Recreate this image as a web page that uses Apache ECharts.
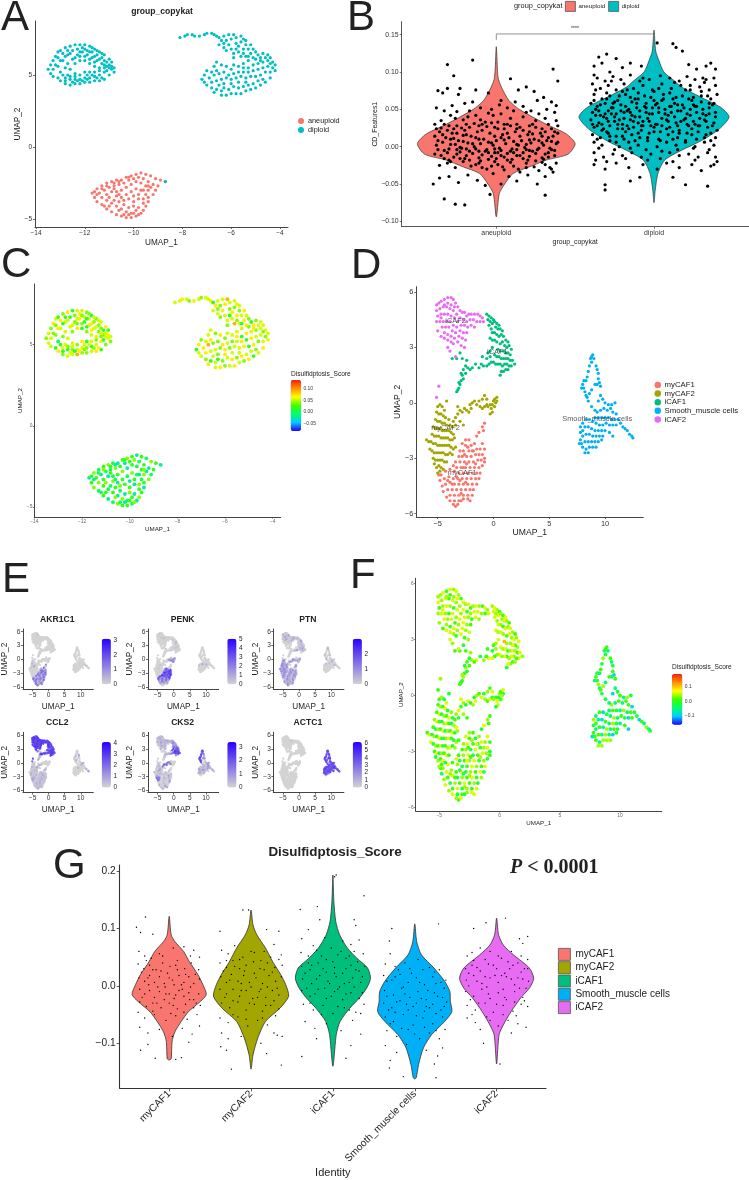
<!DOCTYPE html>
<html><head><meta charset="utf-8">
<style>html,body{margin:0;background:#fff}#c{width:749px;height:1180px}</style>
<script src="https://cdn.jsdelivr.net/npm/echarts@6/dist/echarts.min.js"></script></head>
<body><div id="c"></div>
<script>
// ---------- DATA: UMAP coordinates (tenths of a unit), flat x,y lists
const copykatDiploidA=[-135,54,-134,57,-134,51,-133,60,-132,63,-131,66,-130,67,-128,69,-126,70,-124,71,-122,71,-120,71,-118,70,-116,68,-114,66,-112,64,-110,61,-109,59,-108,55,-108,52,-109,54,-110,50,-112,47,-114,46,-116,46,-118,45,-120,45,-122,44,-124,44,-126,43,-128,44,-130,46,-131,48,-133,49,-130,52,-128,55,-127,58,-125,61,-123,64,-121,66,-119,64,-117,62,-115,60,-113,58,-111,56,-112,52,-114,50,-116,49,-118,48,-120,48,-122,47,-124,47,-126,47,-128,48,-129,50,-131,56,-129,60,-127,64,-125,67,-123,68,-121,69,-119,67,-117,66,-115,64,-113,62,-111,59,-110,57,-114,55,-116,56,-118,58,-120,60,-122,60,-124,58,-126,54,-124,51,-122,50,-120,52,-118,52,-116,52,-114,53,-112,55,-127,50,-125,45,-123,46,-121,46,-119,47,-133,54,-132,57,-130,60,-128,63,-126,65,-124,62,-122,63,-120,63,-118,61,-116,59,-114,61,-112,60,-110,55,-111,53,-113,48,-115,48,-117,50,-119,50,-131,62,-129,65,-127,67,-122,66,-120,68,-118,66,-116,63,-113,65,-115,67,-117,69,-112,57,-109,56,-128,46,-126,49,-124,49];
const copykatDiploidB=[-81,76,-79,77,-78,78,-76,78,-75,77,-73,77,-71,78,-70,79,-68,79,-67,78,-66,77,-65,76,-64,74,-65,71,-63,72,-63,69,-62,67,-60,68,-61,71,-62,74,-63,77,-61,78,-59,78,-60,75,-58,76,-58,72,-56,77,-55,75,-54,74,-56,73,-57,70,-58,68,-59,65,-57,66,-55,68,-54,71,-52,71,-53,68,-55,65,-56,63,-54,63,-52,65,-51,68,-50,66,-49,64,-51,62,-53,60,-55,58,-50,61,-48,62,-47,65,-46,62,-44,62,-43,59,-45,60,-47,59,-49,58,-51,57,-53,55,-55,55,-57,56,-59,57,-60,54,-62,56,-64,57,-66,59,-67,56,-66,53,-68,52,-70,53,-71,50,-72,47,-71,45,-69,48,-67,50,-65,51,-63,52,-61,50,-59,51,-57,52,-55,52,-53,52,-51,53,-49,54,-47,55,-45,56,-43,55,-42,57,-42,53,-44,52,-46,52,-48,50,-50,49,-52,49,-54,48,-56,49,-58,48,-60,47,-62,48,-64,47,-66,46,-68,45,-70,43,-68,41,-66,40,-64,39,-62,36,-60,37,-58,37,-56,37,-54,39,-52,40,-50,41,-48,43,-46,45,-44,48,-47,47,-49,46,-51,44,-53,43,-55,42,-57,41,-59,42,-61,40,-63,41,-65,43,-67,38,-64,36,-63,44,-60,44,-57,45,-54,45,-59,62,-53,63,-48,60,-45,64,-44,58];
const copykatDiploidStray=[-87,-24];
const copykatAneuploid=[-87,-24,-89,-23,-91,-22,-93,-20,-95,-19,-97,-18,-99,-19,-101,-20,-103,-21,-105,-23,-107,-23,-109,-24,-111,-25,-113,-27,-115,-29,-117,-32,-116,-35,-115,-38,-113,-40,-111,-43,-109,-45,-107,-47,-105,-48,-103,-49,-101,-49,-99,-48,-97,-46,-96,-44,-95,-41,-94,-38,-94,-35,-92,-33,-91,-30,-90,-27,-92,-26,-94,-24,-96,-22,-98,-21,-100,-22,-102,-23,-104,-25,-106,-26,-108,-27,-110,-28,-112,-30,-114,-32,-113,-35,-111,-37,-109,-39,-107,-41,-105,-43,-103,-45,-101,-46,-99,-44,-98,-42,-96,-39,-96,-36,-95,-33,-94,-30,-93,-28,-95,-27,-97,-25,-99,-24,-101,-26,-103,-28,-105,-30,-107,-31,-109,-31,-111,-33,-110,-35,-108,-37,-106,-38,-104,-40,-102,-42,-100,-41,-100,-38,-98,-36,-98,-33,-97,-30,-99,-29,-101,-31,-103,-33,-105,-35,-107,-34,-102,-36,-100,-34,-112,-41,-110,-41,-106,-44,-104,-47,-102,-47,-100,-46,-98,-47,-115,-33,-116,-31,-113,-29,-111,-27,-108,-25,-106,-24,-102,-21,-104,-37,-106,-33,-108,-29,-96,-30,-94,-27];
const cafMy1=[-25,-20,-22,-20,-28,-22,-25,-23,-20,-23,-17,-22,-10,-22,-8,-25,-12,-25,-15,-25,-18,-26,-22,-26,-27,-26,-30,-26,-31,-29,-28,-29,-24,-29,-20,-29,-16,-28,-13,-28,-10,-28,-8,-30,-8,-32,-11,-31,-14,-31,-18,-32,-22,-32,-26,-32,-30,-32,-34,-32,-36,-34,-33,-35,-29,-35,-25,-35,-21,-35,-17,-35,-13,-35,-10,-34,-12,-38,-15,-38,-19,-38,-23,-38,-27,-38,-31,-38,-35,-37,-39,-36,-43,-37,-47,-39,-49,-39,-48,-42,-44,-41,-40,-40,-36,-41,-32,-41,-28,-41,-24,-41,-20,-41,-16,-41,-13,-41,-15,-44,-19,-44,-23,-44,-27,-44,-31,-44,-35,-44,-39,-43,-43,-44,-46,-45,-45,-48,-41,-47,-37,-47,-33,-47,-29,-47,-25,-47,-21,-47,-18,-47,-19,-50,-23,-50,-27,-50,-31,-50,-35,-50,-39,-50,-42,-51,-39,-53,-35,-53,-31,-53,-27,-52,-23,-52,-34,-56,-36,-55,-32,-55,-30,-42,-26,-28,-23,-24,-19,-26,-33,-40,-37,-44,-41,-42,-21,-53,-29,-53,-10,-13,-8,-11,-13,-16,-15,-18,-9,-15,-25,-43,-27,-35,-24,-33,-16,-33,-29,-49];
const cafMy2=[-50,-2,-48,-1,-46,-2,-44,-4,-51,-5,-49,-6,-47,-6,-45,-7,-43,-8,-40,-9,-52,-9,-50,-10,-48,-10,-46,-11,-44,-11,-42,-12,-39,-12,-37,-13,-54,-13,-52,-14,-50,-14,-48,-14,-46,-15,-44,-15,-42,-15,-40,-15,-38,-16,-36,-17,-55,-17,-53,-18,-51,-18,-49,-18,-47,-19,-45,-19,-43,-19,-41,-19,-39,-20,-37,-20,-35,-19,-60,-20,-58,-21,-56,-21,-54,-22,-52,-22,-50,-23,-48,-23,-46,-23,-44,-23,-42,-23,-40,-23,-38,-24,-36,-25,-34,-24,-57,-25,-55,-26,-53,-27,-51,-27,-49,-27,-47,-27,-45,-27,-43,-28,-41,-28,-39,-27,-37,-28,-54,-30,-52,-31,-50,-31,-48,-31,-46,-31,-44,-32,-42,-32,-53,-33,-51,-35,-49,-34,-47,-35,-45,-36,-50,-38,-48,-37,-36,-10,-34,-8,-32,-6,-30,-4,-28,-5,-26,-3,-24,-4,-22,-5,-20,-3,-21,-1,-19,0,-17,1,-15,-1,-13,1,-12,-2,-10,-3,-8,-2,-6,-1,-5,-2,-3,-1,-2,-3,-1,-1,0,1,1,2,3,3,3,1,2,0,1,-2,-1,-5,-3,-6,-10,2,-8,4,-6,2,-34,-12,-30,-10,-27,-12,-32,-2,-42,1];
const cafI1=[-6,48,-4,47,-2,46,0,45,-5,45,-3,44,-1,43,1,44,3,43,5,42,2,41,4,40,6,40,8,39,-4,42,-2,40,-1,38,1,38,3,37,5,36,7,37,9,36,11,34,13,33,-3,35,-1,34,1,34,3,33,6,32,8,33,10,31,12,30,14,31,16,29,15,26,13,27,11,27,9,28,6,28,4,29,-1,30,-3,28,-5,27,1,26,3,25,5,25,7,24,9,24,11,24,13,24,15,23,17,23,19,21,16,20,14,20,12,21,10,21,8,20,6,21,4,21,2,21,0,22,-2,22,-4,21,-6,20,9,17,7,17,11,18,13,18,6,15,-9,20,-11,21,-13,19,-16,21,-19,19,-21,18,-23,19,-25,20,-27,18,-28,15,-27,13,-29,12,-30,10,-31,8,-32,7,-33,6,-31,11,-29,16,-25,16,-24,23,-28,24,-30,27,-33,24,-37,24,-3,25,-6,24,-10,25];
const cafSmooth=[88,25,87,24,89,26,88,22,90,24,86,20,85,17,84,14,83,12,81,12,80,10,79,8,81,8,82,6,83,4,84,3,85,1,92,20,93,18,94,16,94,13,95,11,96,9,93,10,91,10,88,7,86,5,96,4,98,2,94,1,100,0,103,-1,106,-1,109,0,99,-3,96,-4,93,-5,91,-4,88,-2,105,-3,102,-4,107,-5,110,-6,112,-9,109,-9,106,-9,103,-8,100,-8,97,-8,94,-8,91,-8,114,-11,116,-13,118,-14,120,-15,122,-17,124,-18,125,-19,110,-12,107,-12,104,-12,101,-11,98,-12,95,-12,92,-11,89,-10,86,-9,83,-9,80,-11,78,-13,78,-16,80,-15,82,-13,85,-13,88,-14,91,-15,94,-15,97,-15,100,-15,104,-16,107,-18,98,-18,95,-18,92,-18,89,-18,86,-17,83,-17,80,-18,78,-20,77,-22,79,-22,82,-21,85,-21,88,-21,91,-21,94,-21,97,-20,80,-24,83,-25,86,-24,89,-24,92,-24,85,-27,82,-27];
const cafI2=[-51,53,-49,54,-47,55,-44,56,-41,57,-38,57,-36,56,-34,54,-32,52,-30,50,-28,49,-26,49,-24,47,-22,48,-20,48,-17,48,-14,48,-12,47,-10,46,-9,44,-12,44,-15,44,-18,45,-21,45,-24,44,-27,45,-30,46,-33,48,-36,50,-39,51,-42,52,-45,52,-48,51,-51,50,-50,47,-47,48,-44,48,-41,48,-38,47,-35,46,-32,44,-29,42,-26,42,-23,41,-20,42,-17,41,-51,44,-48,44,-45,44,-42,44,-39,44,-36,42,-33,41,-30,39,-27,38,-24,38,-46,41,-43,41,-40,41,-37,39,-34,38,-31,36,-28,35,-25,34,-44,38,-41,37,-38,36,-35,35,-32,33,-29,31,-26,30,-41,34,-38,33,-36,32,-41,30,-39,28,-34,25,-50,39,-47,36,-44,35,-38,53,-35,52,-41,54,-44,53,-47,46,-49,9,-51,3];
// score tiers per point (digit = index into the tier list)
const tiersC=[-0.06,-0.04,-0.02,0,0.02,0.04,0.055,0.07,0.09,0.12];
const tiersF=[-0.14,-0.09,-0.05,-0.02,0.01,0.04,0.06,0.08,0.11,0.16];
const scoreCA="5665764574665356746565476558665746356657466557645665474566457665546765475665746556647565746655476564756657465476656745665";
const scoreCB="6676576566747656567566876567657466757658676547665756676567476657566765746785576567476656765747665756676546756765746756675765467657665476";
const scoreCC="2453424542354352453423544325424534243542453324543425342453524342543245343254243534254234532452435424534253";
const scoreFMy1="5464356456346545364563456436546345645364564354654365463546354645364563546453645364563456456345634563546345645";
const scoreFMy2="4536454635463546345643564356435463546354635464356435463546345635463546435463545645364563546354635463546354635463546354635";
const scoreFI1="5654656546565465654656546565465656546558654656456546564565465654656453645364534534543453454344534";
const scoreFSmooth="4343253423423524342341424252314253425234241342523423142523413425231425342142532413425232413425213425";
const scoreFI2="5564656546564565465645665465564656456546565465565465665465645656546564565465654656456546565465";
// Feature plots: digit tiers per point, cluster by cluster (missing digits read as 0)
const fAKR1C1=["0302405103602040530260150403062051040306204105030620401503062040150306204103050204061030520406103052040610305","000010000020000100000030000010000","","00000000000000000000000000000000000000000000000000001","0000000100000000"];
const fPENK=["5746358497683579648573596847359684735968473506850740630540730640530420630420310420310","0000000000000001000000000000000010000000000000000000000000000000000000000000000000000000003040305020403020502","00000000000000100000200000001000000010000000100","00000000000000000000000000000000000000000000000000000000000002000300010","00010000000000000000000000100000000000100"];
const fPTN=["2030402030104020301040203010402030104020301040203010402030104020301040203010402030104020301040203010402030104","3040203010402030405030201040203040302010402030403020104020304030201040203040302010402030403020103020100302010","0000200010003000100020001000200010002000100020003000100020001000300010002","0000200000100000200000100000000100000000200000000100000000200000000100000","0200100030010002001000300100020010003001000200100030010002001"];
const fCCL2=["1010201010201010102010101020101010201010102010102010102010101020101010201010102010102010102010102010102010101","0010001000200010001000100020001000100010002000100010002000100020001020203020203010201","7586785967486758965748675896574867589657486758965748675896574867589657486758965020102","0000000200000000000300000020000030000000200000000000200030000000200","8697586978695869786958697869586978695869786958697869586978695869786958697869586978695869"];
const fCKS2=["0010000200000100003000010000200001000030000100002000010000300001000020000100003000010000200001000030000100002","0010000200100002001000030010000200100002000010002001000020010000300405060504060507040605060405","2030304020302040303040504060507060708070807090807080708070807060504030203020102010000000000000","7685768576857685754020304020100203010203040203010200102010203010020102030104020100100201020301020","1020102010201030102010201020103010201020102010201030102010201020103010201020"];
const fACTC1=["","","","7685768576857685768576958576857685768576857695857685768576857685768576859576857685768576857685768576","00000000000010"];
// Violin profiles: [value, half width in category units]
const violinAneuploid=[[0.134,0],[0.093,0.011],[0.08,0.032],[0.062,0.08],[0.05,0.146],[0.03,0.317],[0.017,0.444],[0.004,0.5],[-0.01,0.455],[-0.018,0.317],[-0.027,0.211],[-0.036,0.106],[-0.05,0.053],[-0.063,0.019],[-0.094,0]];
const violinDiploid=[[0.156,0],[0.128,0.011],[0.115,0.032],[0.1,0.063],[0.088,0.13],[0.08,0.173],[0.067,0.29],[0.053,0.42],[0.04,0.476],[0.024,0.416],[0.008,0.3],[-0.005,0.173],[-0.018,0.068],[-0.036,0.025],[-0.058,0.008],[-0.075,0]];
const violinMy1=[[0.121,0],[0.089,0.024],[0.077,0.07],[0.06,0.176],[0.042,0.247],[0.019,0.353],[0.002,0.412],[-0.015,0.453],[-0.027,0.382],[-0.045,0.235],[-0.062,0.147],[-0.08,0.07],[-0.097,0.035],[-0.127,0.024],[-0.129,0]];
const violinMy2=[[0.132,0],[0.106,0.024],[0.089,0.07],[0.066,0.176],[0.042,0.265],[0.019,0.365],[0.002,0.424],[-0.018,0.459],[-0.039,0.353],[-0.062,0.176],[-0.091,0.082],[-0.12,0.024],[-0.145,0]];
const violinI1=[[0.193,0],[0.147,0.012],[0.112,0.035],[0.089,0.082],[0.066,0.176],[0.048,0.294],[0.031,0.424],[0.013,0.459],[-0.004,0.412],[-0.021,0.324],[-0.039,0.206],[-0.062,0.088],[-0.085,0.041],[-0.14,0]];
const violinSmooth=[[0.108,0],[0.077,0.024],[0.054,0.082],[0.031,0.235],[0.008,0.365],[-0.01,0.429],[-0.027,0.435],[-0.045,0.453],[-0.062,0.365],[-0.085,0.206],[-0.108,0.106],[-0.137,0.047],[-0.16,0.018],[-0.162,0]];
const violinI2=[[0.118,0],[0.089,0.024],[0.071,0.082],[0.054,0.206],[0.031,0.4],[0.013,0.453],[-0.004,0.4],[-0.021,0.294],[-0.045,0.176],[-0.068,0.082],[-0.085,0.03],[-0.136,0]];
// Jitter points: flat lists of x offset (hundredths of a category) and value (thousandths)
const jitterAneuploid=[-31,110,-15,116,-27,95,9,91,36,104,39,88,-33,-70,-26,-77,-20,-78,31,-65,-4,-64,-37,75,-34,72,-31,78,-24,70,-23,78,-13,76,-5,72,3,62,14,76,19,80,24,74,30,66,35,60,38,55,-38,52,-33,48,-28,55,-25,47,-20,58,-15,60,-10,52,-3,50,2,56,7,52,12,60,17,54,22,48,26,62,32,50,37,46,-39,30,-35,35,-30,28,-26,38,-22,25,-18,40,-14,31,-10,36,-6,27,-2,42,1,33,5,24,9,38,13,30,17,40,21,28,25,35,29,24,33,30,38,35,-39,14,-36,20,-32,12,-28,18,-24,8,-20,22,-16,14,-12,20,-8,10,-4,18,0,8,4,16,8,12,12,20,16,8,20,16,24,10,28,18,32,8,36,14,39,18,-38,2,-34,6,-30,-3,-26,3,-22,-2,-18,5,-14,0,-10,4,-6,-4,-2,2,2,-2,6,4,10,-3,14,2,18,-1,22,5,26,-4,30,2,34,-2,38,4,-39,-10,-35,-12,-31,-8,-27,-14,-23,-7,-19,-12,-15,-9,-11,-15,-7,-6,-3,-13,1,-8,5,-14,9,-6,13,-12,17,-8,21,-13,25,-9,29,-15,33,-8,37,-12,-36,-25,-31,-22,-26,-28,-21,-20,-16,-26,-11,-22,-6,-30,-1,-20,4,-27,9,-21,14,-30,19,-22,24,-27,29,-21,34,-28,38,-22,-40,-50,-36,-42,-30,-40,-24,-48,-18,-38,-12,-45,-7,-52,-2,-36,3,-50,8,-40,13,-46,20,-38,26,-50,31,-40,36,-34,-37,8,-33,-5,-29,10,-25,-10,-21,15,-17,-6,-13,12,-9,-11,-5,6,-1,-8,3,12,7,-9,11,7,15,-12,19,3,23,-6,27,8,31,-10,35,7,-35,25,-27,24,-19,30,-11,28,-3,32,5,30,13,24,21,20,29,14,-30,-18,-20,-16,-10,-19,0,-16,10,-17,20,-18,30,-17,-38,24,-34,16,-31,22,-29,3,-27,11,-25,28,-23,-1,-21,7,-19,16,-17,26,-15,4,-13,-3,-11,10,-9,22,-7,33,-5,-8,-3,5,-1,14,1,24,3,-5,5,9,7,18,9,28,11,-8,13,3,15,14,17,22,19,-4,21,9,23,17,25,26,27,-2,29,5,31,20,33,12,35,-4,37,20,39,6,-37,-4,-33,-16,-29,-20,-25,-4,-23,-16,-19,-3,-17,-18,-13,-24,-11,-6,-9,-28,-5,-17,-3,-26,-1,-3,1,-24,3,-12,5,-31,7,-18,11,-26,13,-4,15,-34,17,-16,19,-28,21,-5,25,-19,27,-32,31,-24,33,-14,35,-30,37,-5,-33,30,-29,42,-25,18,-21,36,-17,48,-13,42,-9,30,-5,45,-1,26,3,44,7,30,11,48,15,26,19,46,23,30,27,44,31,38,35,24,39,28];
const jitterDiploid=[2,139,12,138,14,133,18,128,-30,124,-35,120,-33,112,-38,108,-24,118,-20,106,-28,100,-38,96,-15,112,-8,108,22,110,27,104,33,108,39,104,36,112,31,92,-31,-58,-31,-51,-15,-46,-9,-41,20,-51,34,-53,12,-41,-36,92,-31,88,-26,94,-21,90,-15,96,-9,88,-3,90,4,95,10,92,16,88,21,94,26,90,32,86,38,92,-39,84,-34,78,-29,82,-24,76,-19,84,-13,78,-7,82,-1,76,5,84,11,78,17,82,23,76,29,80,35,76,39,82,-38,70,-33,64,-28,68,-23,62,-18,70,-12,64,-6,68,0,62,6,70,12,64,18,68,24,62,30,68,36,64,40,70,-40,58,-36,54,-31,58,-26,52,-21,56,-16,50,-11,58,-5,52,1,56,7,50,13,58,19,52,25,56,31,50,37,56,-39,46,-34,42,-29,48,-24,44,-19,46,-14,42,-9,48,-3,44,3,46,9,42,15,48,21,44,27,46,33,42,39,46,-40,36,-35,32,-30,38,-25,34,-20,30,-15,36,-10,32,-4,38,2,30,8,36,14,32,20,38,26,30,32,36,38,32,-38,26,-33,22,-28,28,-23,24,-18,20,-13,26,-8,22,-2,28,4,20,10,26,16,22,22,28,28,20,34,26,40,22,-39,16,-34,12,-29,18,-24,14,-19,10,-14,16,-9,12,-3,18,3,10,9,16,15,12,21,18,27,10,33,16,39,12,-38,6,-33,2,-28,8,-22,0,-16,6,-10,2,-4,8,2,0,8,6,14,2,20,8,26,0,32,6,38,2,-38,-8,-32,-14,-26,-10,-20,-12,-14,-8,-8,-14,-2,-10,4,-16,10,-8,16,-12,22,-10,28,-14,34,-8,39,-14,-38,-24,-31,-30,-24,-22,-16,-28,-7,-24,2,-30,8,-22,16,-28,24,-24,30,-32,36,-26,40,-20,-37,-18,-37,50,-32,40,-27,44,-22,36,-17,48,-12,40,-7,34,-1,52,5,38,11,46,17,34,23,50,29,38,35,44,-36,28,-30,20,-20,24,-10,18,0,26,12,20,24,24,36,18,-25,60,-15,66,-5,58,5,62,15,56,25,66,35,58,-30,72,-20,74,-10,72,0,74,10,72,20,76,30,74,-39,30,-37,42,-35,48,-33,30,-31,44,-29,34,-27,52,-25,40,-23,30,-21,48,-19,38,-17,28,-15,46,-13,34,-11,52,-9,40,-7,28,-5,46,-3,34,-1,44,1,30,3,52,5,28,7,44,9,34,11,54,13,40,15,28,17,48,19,36,21,30,23,42,25,34,27,54,29,28,31,44,33,34,35,52,37,28,39,40,-38,62,-34,56,-30,64,-26,58,-22,68,-18,54,-14,60,-10,64,-6,54,-2,66,2,58,6,64,10,54,14,66,18,56,22,64,26,54,30,60,34,68,38,58,-36,10,-32,24,-28,14,-24,6,-20,14,-16,24,-12,8,-8,28,-4,12,0,20,4,8,8,24,12,10,16,18,20,6,24,16,28,28,32,12,36,8,-37,76,-27,88,-17,76,-7,92,3,78,13,86,23,82,33,90,-35,-2,-25,-4,-15,-2,-5,-4,5,-6,15,-4,25,-2,35,-4,-30,-20,-18,-16,-4,-18,12,-20,26,-18,38,-24];
const jitterMy1=[-29,120,-40,102,-35,93,-20,90,-35,-112,-17,-126,15,-125,8,-128,-37,60,-30,52,-22,48,-12,56,5,66,18,68,30,62,37,50,-38,38,-31,30,-24,36,-16,28,-8,40,1,34,10,44,19,30,27,40,36,28,-37,14,-30,8,-24,18,-18,6,-12,16,-6,4,0,14,6,2,12,18,18,6,24,16,30,4,37,12,-36,-6,-30,-14,-24,-8,-18,-20,-12,-10,-6,-24,0,-14,6,-22,12,-8,18,-18,24,-12,30,-24,36,-14,-36,-28,-28,-36,-20,-30,-10,-38,0,-30,10,-40,20,-32,30,-38,38,-34,-38,-46,-30,-56,-18,-50,-4,-60,8,-52,22,-58,34,-50,-36,-72,-26,-82,-12,-76,4,-88,16,-74,28,-84,37,-70,-26,-102,24,-98,-34,24,-26,14,-20,28,-14,-2,-10,26,-4,-14,-2,22,4,10,8,-16,10,28,16,-6,20,20,26,-2,32,20,-33,-20,-25,2,-15,-30,-5,-2,5,-34,15,2,25,-24,33,-30,-28,44,-8,52,8,36,26,52,-20,-44,2,-48,18,-46];
const jitterMy2=[-10,132,-3,132,-38,95,34,95,19,98,-24,-145,37,-138,19,-118,-36,62,-28,56,-20,70,-10,50,4,58,16,60,28,72,37,54,-38,40,-30,32,-22,44,-14,30,-6,36,3,42,11,30,20,40,29,32,38,36,-37,16,-30,6,-24,20,-16,8,-9,18,-2,6,6,14,14,4,22,18,30,8,37,16,-38,-6,-30,-14,-22,-6,-14,-18,-6,-8,2,-22,10,-10,18,-20,26,-8,34,-16,-36,-30,-26,-38,-16,-28,-6,-42,4,-32,14,-44,24,-34,34,-40,-38,-56,-28,-64,-16,-54,-4,-70,8,-60,20,-68,32,-86,38,-88,-36,-82,-28,-92,-12,-88,-37,-106,-30,-112,12,-100,28,-82,-34,26,-26,10,-20,34,-12,4,-8,26,0,-2,4,22,12,-6,16,28,20,-2,26,24,32,-4,-32,-20,-22,-26,-12,-8,-2,-30,8,-20,18,-34,28,-26,-30,44,-14,46,0,60,12,44,24,50,34,46,-22,-50,-6,-58,14,-56,30,-52];
const jitterI1=[4,193,2,190,38,157,-40,133,-19,138,-16,115,26,115,28,105,-30,98,-38,82,-24,70,-10,84,12,78,22,72,32,80,-39,58,-30,52,-20,62,-8,46,6,54,16,48,26,60,37,56,-38,34,-28,28,-18,40,-8,24,2,32,12,22,22,36,32,26,39,34,-37,12,-26,4,-16,18,-6,8,4,16,14,4,24,14,34,6,-38,-8,-28,-18,-18,-6,-8,-22,2,-10,12,-24,22,-12,32,-22,-36,-32,-24,-42,-12,-34,0,-48,14,-38,28,-46,38,-32,-34,-62,-22,-74,-8,-66,10,-78,24,-60,34,-84,-38,-123,16,-126,-20,-92,22,-104,-34,22,-26,36,-20,12,-12,30,-4,4,2,22,8,-2,16,30,20,6,28,28,36,16,-32,-4,-22,-14,-10,-4,-2,-18,6,-6,16,-14,26,-2,36,-12,-30,40,-14,52,0,42,10,60,20,52,30,42,-28,-30,-14,-50,6,-36,20,-42,34,-48,-2,66];
const jitterSmooth=[-28,100,29,108,-31,-143,26,-160,-14,-158,-31,78,-30,56,-36,38,-24,34,-12,40,4,46,18,32,30,28,38,10,-38,18,-28,10,-18,20,-8,6,2,14,12,2,22,16,32,6,-37,-8,-26,-16,-16,-4,-6,-20,4,-10,14,-24,24,-12,34,-20,-38,-30,-28,-38,-18,-26,-8,-42,2,-30,12,-44,22,-32,32,-42,39,-28,-36,-54,-26,-62,-14,-50,-2,-68,10,-56,22,-66,34,-54,-34,-78,-22,-88,-8,-76,6,-92,18,-82,30,-92,37,-76,-36,-104,-22,-116,-10,-102,14,-112,28,-122,34,-108,-30,-130,24,-136,-34,8,-24,16,-14,-2,-4,22,6,6,16,-8,26,4,36,-4,-34,-18,-22,-28,-12,-14,-2,-36,8,-22,18,-38,28,-18,-32,-42,-24,-46,-10,-32,2,-52,14,-36,26,-48,36,-36,-30,-66,-16,-74,0,-84,12,-72,26,-78,-20,28,-6,30,10,28,24,24];
const jitterI2=[-28,100,-13,110,11,118,38,86,-16,-100,4,-136,28,82,32,74,-30,58,-36,52,-20,66,-8,60,6,48,18,60,30,52,38,46,-38,30,-30,36,-20,26,-10,38,0,30,10,22,20,36,30,24,38,30,-37,10,-28,18,-18,4,-8,14,2,6,12,16,22,2,32,12,39,8,-38,-10,-28,-18,-18,-6,-8,-22,2,-12,12,-24,22,-10,32,-20,-36,-34,-26,-42,-14,-30,-4,-46,8,-34,20,-44,30,-32,38,-36,-36,-56,-26,-64,-12,-54,2,-70,14,-60,26,-66,36,-72,-20,-76,18,-82,-34,22,-24,32,-14,16,-4,36,6,18,16,30,26,14,34,30,-34,0,-24,8,-12,-2,-2,18,8,-6,18,12,28,-4,36,-4,-32,-24,-22,-30,-10,-14,0,-32,10,-20,22,-28,34,-26,-28,44,-14,46,2,52,14,42,26,40,-30,-50,-8,-60,8,-50,24,-52];
// names and tick labels
const copykatGroups=["aneuploid","diploid"];
const cafClusters=["myCAF1","myCAF2","iCAF1","Smooth_muscle cells","iCAF2"];
const featureNames=["AKR1C1","PENK","PTN","CCL2","CKS2","ACTC1"];
const featureMax=[3.09,5.1,3.07,4.08,3.36,6.12];
const featureTicks=[[0,1,2,3],[0,1,2,3,4,5],[0,1,2],[0,1,2,3,4],[0,1,2,3],[0,1,2,3,4,5,6]];
const clusterLabels=[["myCAF1",-2.8,-3.8],["myCAF2",-4.3,-1.35],["iCAF1",0.35,2.75],["Smooth_muscle cells",9.3,-0.85],["iCAF2",-3.4,4.45]];

// ---------- BUILD
const PAL2=["#F8766D","#00BFC4"], PAL5=["#F8766D","#A3A500","#00BF7D","#00B0F6","#E76BF3"];
const RAINBOW=['#2200ff','#00ccff','#00ff70','#40ff00','#ffff00','#ff9000','#ff2000'];
const GREYBLUE=['#D3D3D3','#2A00FF'];
const pairs=(a,sx,sy)=>{const o=[];for(let i=0;i<a.length;i+=2)o.push([a[i]/sx,a[i+1]/sy]);return o;};
const u=a=>pairs(a,10,10);
const tag=(pts,str,tiers)=>pts.map((p,i)=>[p[0],p[1],tiers[+(str[i]||5)]]);
const grids=[],xAxis=[],yAxis=[],series=[],visualMap=[],legend=[],graphic=[];
const minus=(d)=>v=>(v<0?'\u2212':'')+(d==null?String(Math.abs(v)):Math.abs(v).toFixed(d));
const axisBase=(st)=>({type:'value',splitLine:{show:false},nameLocation:'middle',nameMoveOverlap:false,
  axisLine:{show:true,onZero:false,lineStyle:{color:st.line||'#444',width:st.lw||1}}});
function plot(o){
  const g=grids.length,[l,t,r,b]=o.box;
  grids.push({left:l,top:t,width:r-l,height:b-t});
  const val=(c,p)=>c[0]+(p-c[1])*(c[2]-c[0])/(c[3]-c[1]);
  const mk=(c,a,b2,ticks,fmt,name,gap)=>Object.assign(axisBase(o),{gridIndex:g,min:val(c,a),max:val(c,b2),name,nameGap:gap,
    nameTextStyle:{fontSize:o.nameSize,color:o.nameColor||'#222'},
    axisTick:{show:true,length:o.tick||2,customValues:ticks,lineStyle:{color:o.line||'#444',width:.8}},
    axisLabel:{customValues:ticks,formatter:fmt,fontSize:o.tickSize,color:o.tickColor||'#333',margin:o.margin||3,rotate:0}});
  const xa=mk(o.xc,l,r,o.xt,o.xf||minus(),o.xn,o.xg);
  if(o.xrot){xa.axisLabel.rotate=o.xrot;xa.axisLabel.margin=o.xm;}
  xAxis.push(xa);
  yAxis.push(mk(o.yc,b,t,o.yt,o.yf||minus(),o.yn,o.yg));
  return g;
}
function add(g,s){series.push(Object.assign({xAxisIndex:g,yAxisIndex:g,silent:true,animation:false},s));return series.length-1;}
function dots(g,name,data,color,size){return add(g,{type:'scatter',name,data,symbolSize:size,itemStyle:color?{color,opacity:1}:{opacity:1},emphasis:{disabled:true}});}
function bar(left,top,w,h,min,max,si,colors,ticks,fmt,size,color){
  visualMap.push({type:'continuous',seriesIndex:si,dimension:2,min,max,left,top,itemWidth:w,itemHeight:h,padding:0,calculable:false,
    hoverLink:false,text:null,inRange:{color:colors},outOfRange:{color:colors[0]}});
  const g=grids.length;grids.push({left,top,width:w,height:h});
  xAxis.push({type:'value',gridIndex:g,show:false,min:0,max:1});
  yAxis.push({type:'value',gridIndex:g,position:'right',min,max,z:20,splitLine:{show:false},axisLine:{show:false},
    axisTick:{show:true,inside:true,length:2,customValues:ticks,lineStyle:{color:'#fff',width:.6}},
    axisLabel:{customValues:ticks,formatter:fmt,fontSize:size,color,margin:2.5}});
}
function violin(g,name,center,prof,color,lw,smooth){
  add(g,{type:'custom',name,coordinateSystem:'cartesian2d',clip:false,data:[[center,prof[0][0]]],itemStyle:{color},
    renderItem:(p,api)=>{const R=prof.map(d=>api.coord([center+d[1],d[0]])),L=prof.map(d=>api.coord([center-d[1],d[0]])).reverse();
      return {type:'polygon',shape:{points:R.concat(L.slice(1,-1)),smooth},style:{fill:color,stroke:'#333',lineWidth:lw}};}});
}
function txt(text,x,y,fontSize,o={}){graphic.push({type:'text',silent:true,style:Object.assign({text,x,y,fontSize,fontFamily:'Liberation Sans',fill:'#222',textAlign:'left',textVerticalAlign:'middle'},o)});}

// A
const A=plot({box:[35,21,288,227],xc:[-14,36,-4,280],yc:[5,75,0,147],xt:[-14,-12,-10,-8,-6,-4],yt:[-5,0,5],tickSize:6.5,nameSize:8.2,xn:'UMAP_1',xg:12,yn:'UMAP_2',yg:13});
const ptsDip=u(copykatDiploidA).concat(u(copykatDiploidB));
dots(A,copykatGroups[0],u(copykatAneuploid),PAL2[0],3.2);
dots(A,copykatGroups[1],ptsDip.concat(u(copykatDiploidStray)),PAL2[1],3.2);
legend.push({data:copykatGroups,left:298,top:117.5,orient:'vertical',icon:'circle',itemWidth:6,itemHeight:6,itemGap:2,padding:0,selectedMode:false,textStyle:{fontSize:7.3,color:'#222',padding:[0,0,0,-1]}});
txt('group_copykat',162,12,8.6,{textAlign:'center',fontWeight:'bold'});

// B
const B=plot({box:[401.7,21.7,748.6,226.7],xc:[1,496.3,2,654],yc:[0.15,34.7,-0.1,221.3],xt:[1,2],yt:[-0.1,-0.05,0,0.05,0.1,0.15],xf:v=>copykatGroups[v-1],yf:minus(2),tickSize:6.9,tickColor:'#333',nameSize:6.9,xn:'group_copykat',xg:11.5,yn:'CD_Features1',yg:23,line:'#555'});
violin(B,copykatGroups[0],1,violinAneuploid,PAL2[0],.7,.25);
violin(B,copykatGroups[1],2,violinDiploid,PAL2[1],.7,.25);
const jit=(a,c)=>pairs(a,100,1000).map(p=>[c+p[0],p[1]]);
dots(B,'aneuploid points',jit(jitterAneuploid,1),'#000',3.2);
dots(B,'diploid points',jit(jitterDiploid,2),'#000',3.2);
add(B,{type:'line',name:'bracket',data:[[1,0.143],[1,0.151],[2,0.151],[2,0.143]],showSymbol:false,lineStyle:{color:'#777',width:.8}});
txt('****',575,29,5,{textAlign:'center'});
txt('group_copykat',514,6,7.4);
legend.push({data:copykatGroups,left:565,top:1,orient:'horizontal',icon:'rect',itemWidth:10,itemHeight:10,itemGap:3,padding:0,selectedMode:false,itemStyle:{borderColor:'#555',borderWidth:.8},textStyle:{fontSize:6.2,color:'#222',padding:[0,0,0,-2]}});

// C
const C=plot({box:[34.3,284,280.7,517],xc:[-14,34.3,-4,272.7],yc:[5,344.7,-5,507],xt:[-14,-12,-10,-8,-6,-4],yt:[-5,0,5],tickSize:4.8,tickColor:'#666',nameSize:6.2,xn:'UMAP_1',xg:9,yn:'UMAP_2',yg:11,tick:1.5,margin:2});
const cD=dots(C,'scoreC',tag(u(copykatAneuploid),scoreCC,tiersC).concat(tag(u(copykatDiploidA),scoreCA,tiersC),tag(u(copykatDiploidB),scoreCB,tiersC)),null,3.8);
bar(290.7,380,10.3,51,-0.0805,0.1365,cD,RAINBOW,[-0.05,0,0.05,0.1],minus(2),4.9,'#333');
txt('Disulfidptosis_Score',291,373.7,6.6);

// D
const D=plot({box:[416.3,286.7,643.3,517],xc:[-5,437.7,10,605],yc:[6,292,-6,513.7],xt:[-5,0,5,10],yt:[-6,-3,0,3,6],tickSize:7.4,nameSize:8.6,xn:'UMAP_1',xg:11,yn:'UMAP_2',yg:14});
const cafSets=[cafMy1,cafMy2,cafI1,cafSmooth,cafI2].map(u);
cafSets.forEach((d,i)=>dots(D,cafClusters[i],d,PAL5[i],3.2));
add(D,{type:'scatter',name:'cluster labels',symbolSize:0,data:clusterLabels.map(c=>({name:c[0],value:[c[1],c[2]]})),label:{show:true,position:'inside',formatter:'{b}',fontSize:7.4,color:'#333'},z:5});
legend.push({data:cafClusters,left:654.5,top:381,orient:'vertical',icon:'circle',itemWidth:6.5,itemHeight:6.5,itemGap:.6,padding:0,selectedMode:false,textStyle:{fontSize:7.8,color:'#222',padding:[0,0,0,-1.5]}});

// E
[fAKR1C1,fPENK,fPTN,fCCL2,fCKS2,fACTC1].forEach((f,k)=>{
  const col=k%3,row=k>2?1:0,sx=col*125.3,sy=row*103.3;
  const g=plot({box:[22.7+sx,629+sy,93.3+sx,689.3+sy],xc:[-5,32.3+sx,10,80.7+sx],yc:[6,631.7+sy,-6,687.3+sy],xt:[-5,0,5,10],yt:[-6,-3,0,3,6],tickSize:6.6,nameSize:8.2,xn:'UMAP_1',xg:13,yn:'UMAP_2',yg:14,margin:2.5});
  let data=[];
  cafSets.forEach((set,c)=>set.forEach((p,i)=>{data.push([p[0],p[1],(+(f[c][i]||0))/12*featureMax[k]]);}));
  data.sort((a,b)=>a[2]-b[2]);
  const s=dots(g,featureNames[k],data,null,2.3);
  bar([101.7,227.3,352.7][col],638.7+sy,9.2,45.6,0,featureMax[k],s,GREYBLUE,featureTicks[k],minus(),6.4,'#222');
  txt(featureNames[k],57.3+sx,619.3+sy,8.6,{textAlign:'center',fontWeight:'bold'});
});

// F
const F=plot({box:[415.7,578.3,661.7,811],xc:[-5,439.3,10,620],yc:[6,583.7,-6,807.3],xt:[-5,0,5,10],yt:[-6,-3,0,3,6],tickSize:4.9,tickColor:'#666',nameSize:6.2,xn:'UMAP_1',xg:9,yn:'UMAP_2',yg:11.7,tick:1.5,margin:2});
const fStr=[scoreFMy1,scoreFMy2,scoreFI1,scoreFSmooth,scoreFI2];
const fData=cafSets.reduce((a,s,i)=>a.concat(tag(s,fStr[i],tiersF)),[]);
const fS=dots(F,'scoreF',fData,null,3.8);
bar(672,674,10.3,50.7,-0.164,0.19,fS,RAINBOW,[-0.1,0,0.1],minus(1),4.9,'#333');
txt('Disulfidptosis_Score',672,667.3,6.6);

// G
const G=plot({box:[119.7,865,546,1088.3],xc:[1,169.2,2,251.05],yc:[0.2,871,-0.1,1043.3],xt:[1,2,3,4,5],yt:[-0.1,0,0.1,0.2],xf:v=>cafClusters[v-1],yf:minus(1),xrot:45,xm:4,tickSize:10.2,tickColor:'#222',nameSize:11,xn:'Identity',xg:79,tick:3,margin:4,lw:1.1,line:'#333'});
const vs=[violinMy1,violinMy2,violinI1,violinSmooth,violinI2],js=[jitterMy1,jitterMy2,jitterI1,jitterSmooth,jitterI2];
vs.forEach((v,i)=>violin(G,cafClusters[i],i+1,v,PAL5[i],.8,.25));
js.forEach((j,i)=>dots(G,'jitter '+i,jit(j,i+1),'#000',1.4));
legend.push({data:cafClusters,left:558,top:948,orient:'vertical',icon:'rect',itemWidth:12,itemHeight:12,itemGap:.5,padding:0,selectedMode:false,itemStyle:{borderColor:'#555',borderWidth:.8},textStyle:{fontSize:10,color:'#222',padding:[0,0,0,0]}});
txt('Disulfidptosis_Score',335,852.3,13.4,{textAlign:'center',fontWeight:'bold'});
graphic.push({type:'text',silent:true,style:{x:510,y:868,textVerticalAlign:'middle',text:'{i|P}{n| < 0.0001}',fill:'#222',rich:{i:{fontFamily:'Liberation Serif',fontStyle:'italic',fontWeight:'bold',fontSize:20,fill:'#222'},n:{fontFamily:'Liberation Serif',fontWeight:'bold',fontSize:20,fill:'#222'}}}});

// Panel letters
[['A',1,18],['B',347,18],['C',1,265],['D',351,266],['E',2,580],['F',350,576],['G',53,866]].forEach(l=>txt(l[0],l[1],l[2],42,{fill:'#222'}));

const chart=echarts.init(document.getElementById('c'),null,{renderer:'canvas'});
chart.setOption({animation:false,backgroundColor:'#fff',textStyle:{fontFamily:'Liberation Sans'},tooltip:{show:false},grid:grids,xAxis,yAxis,series,visualMap,legend,graphic:{elements:graphic}});
</script></body></html>
